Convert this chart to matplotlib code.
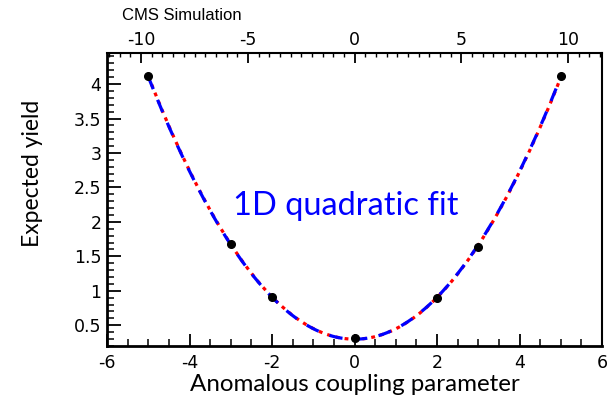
import numpy as np
import matplotlib.pyplot as plt
from matplotlib.ticker import MultipleLocator

# --- data ---
coupling = np.array([-5, -3, -2, 0, 2, 3, 5])
yield_vals = np.array([4.11, 1.68, 0.91, 0.31, 0.90, 1.64, 4.11])

# quadratic fits through the points (red: full, blue: symmetric a + c*x^2)
p_full = np.polyfit(coupling, yield_vals, 2)
c_sym = np.polyfit(coupling**2, yield_vals, 1)
xs = np.linspace(-5, 5, 300)

plt.rcParams['font.family'] = 'DejaVu Sans'

fig = plt.figure(figsize=(6.15, 4.05), dpi=100)
ax = fig.add_axes([0.174, 0.146, 0.805, 0.723])

ax.plot(xs, np.polyval(p_full, xs), color='red', lw=2.3, ls=(0, (1.2, 1.6)))
ax.plot(xs, np.polyval(c_sym, xs**2), color='blue', lw=2.3, ls=(0, (4.2, 3.6)))
ax.plot(coupling, yield_vals, 'o', color='black', ms=5.5, zorder=5)

ax.set_xlim(-6, 6)
ax.set_ylim(0.2, 4.45)
ax.xaxis.set_major_locator(MultipleLocator(2))
ax.xaxis.set_minor_locator(MultipleLocator(0.5))
ax.yaxis.set_major_locator(MultipleLocator(0.5))
ax.yaxis.set_minor_locator(MultipleLocator(0.1))
ax.yaxis.set_major_formatter(plt.FuncFormatter(lambda v, p: f'{v:g}'))
ax.xaxis.set_major_formatter(plt.FuncFormatter(lambda v, p: f'{v:g}'))

ax.tick_params(axis='x', which='major', direction='in', length=9, width=1.3,
               top=False, pad=6, labelsize=12.5)
ax.tick_params(axis='x', which='minor', direction='in', length=5, width=1.1, top=False)
ax.tick_params(axis='y', which='major', direction='in', length=10, width=1.3,
               right=False, pad=4, labelsize=12.5)
ax.tick_params(axis='y', which='minor', direction='in', length=5, width=1.1, right=False)

for side in ['left', 'bottom']:
    ax.spines[side].set_linewidth(2.0)
for side in ['right', 'top']:
    ax.spines[side].set_linewidth(1.5)

# top axis with its own scale
top = ax.twiny()
top.set_xlim(-11.6, 11.6)
top.xaxis.set_major_locator(MultipleLocator(5))
top.xaxis.set_minor_locator(MultipleLocator(0.5))
top.xaxis.set_major_formatter(plt.FuncFormatter(lambda v, p: f'{v:g}'))
top.tick_params(axis='x', which='major', direction='in', length=7, width=1.3,
                pad=3, labelsize=12.5)
top.tick_params(axis='x', which='minor', direction='in', length=3, width=1.0)
for s in top.spines.values():
    s.set_visible(False)

label_font = 'Lato'
ax.set_xlabel('Anomalous coupling parameter', fontsize=17.4, family=label_font, va='center')
ax.xaxis.set_label_coords(0.5, -0.133)
ax.set_ylabel('Expected yield', fontsize=16.5, family=label_font, va='center')
ax.yaxis.set_label_coords(-0.15, 0.59)

ax.text(0.255, 0.478, '1D quadratic fit', transform=ax.transAxes, color='blue',
        fontsize=23.5, family=label_font, va='center', ha='left')
fig.text(0.198, 0.962, 'CMS Simulation', fontsize=12, family='Liberation Sans', va='center')

plt.savefig('out.png', dpi=100)
